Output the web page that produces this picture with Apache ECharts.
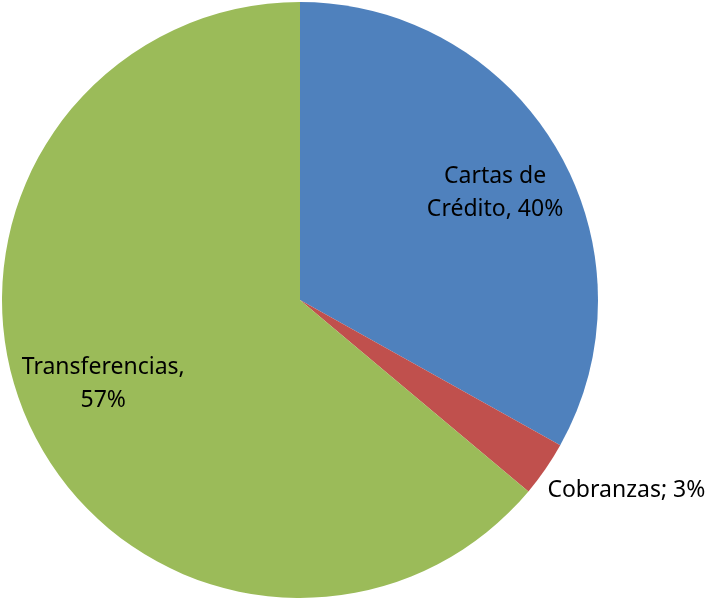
<!DOCTYPE html>
<html>
<head>
<meta charset="utf-8">
<script src="https://cdn.jsdelivr.net/npm/echarts@6/dist/echarts.min.js"></script>
<style>
  html, body { margin: 0; padding: 0; background: #fff; }
  #chart { width: 707px; height: 598px; }
</style>
</head>
<body>
<div id="chart"></div>
<script>
// slice sizes as drawn, and the labels printed on them
const names = ["Cartas de Crédito", "Cobranzas", "Transferencias"];
const values = [33.1, 3.0, 63.9];
const labelTexts = ["Cartas de\nCrédito, 40%", "Cobranzas; 3%", "Transferencias,\n57%"];
const colors = ["#4F81BD", "#C0504D", "#9BBB59"];

const chart = echarts.init(document.getElementById("chart"));

// label nudges so they sit where the original puts them
const nudges = [
  { dx: 64, dy: -30 },
  { dx: -3, dy: 21 },
  { dx: -59, dy: 20 },
];

const option = {
  animation: false,
  series: [
    {
      type: "pie",
      center: [300, 300],
      radius: [0, 298],
      startAngle: 90,
      clockwise: true,
      silent: true,
      itemStyle: { borderWidth: 0 },
      data: values.map((v, i) => ({
        name: names[i],
        value: v,
        itemStyle: { color: colors[i] },
        label: {
          show: true,
          position: i === 1 ? "outside" : "inside",
          formatter: labelTexts[i],
          color: "#000",
          fontSize: 23,
          lineHeight: 33,
          fontFamily: "Noto Sans",
          align: i === 1 ? "left" : "center",
          overflow: "none",
          edgeDistance: 0,
        },
        labelLine: { show: false, length: 0, length2: 0 },
      })),
      labelLayout: function (params) {
        return nudges[params.dataIndex];
      },
    },
  ],
};

chart.setOption(option);
</script>
</body>
</html>
